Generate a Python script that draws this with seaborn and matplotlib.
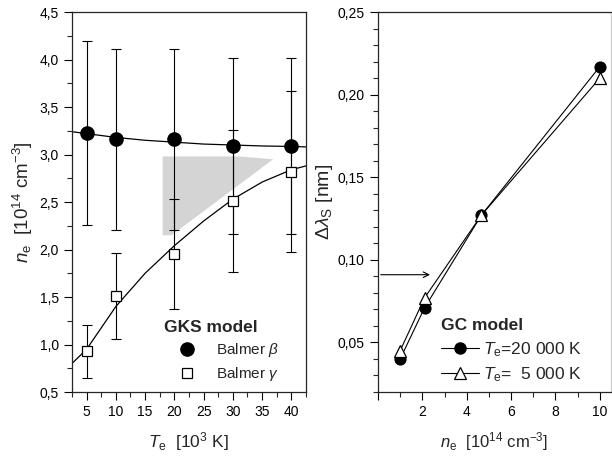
import numpy as np
import pandas as pd
import seaborn as sns
import matplotlib.pyplot as plt
from matplotlib.lines import Line2D
from matplotlib.ticker import MultipleLocator, FuncFormatter

# left panel: GKS model, n_e vs T_e
T_pts = [5, 10, 20, 30, 40]
beta_ne = [3.23, 3.16, 3.16, 3.09, 3.09]
beta_err = [0.97, 0.95, 0.95, 0.93, 0.93]
gamma_ne = [0.93, 1.51, 1.95, 2.51, 2.82]
gamma_err = [0.28, 0.45, 0.58, 0.75, 0.85]

# fit curves
T_fit = [2.5, 5, 10, 15, 20, 25, 30, 35, 40, 42.5]
beta_fit = [3.24, 3.22, 3.18, 3.15, 3.13, 3.11, 3.10, 3.09, 3.085, 3.08]
gamma_fit = [0.80, 0.95, 1.40, 1.75, 2.04, 2.30, 2.53, 2.71, 2.84, 2.88]

# grey region
shade_T = [18.0, 31.0, 36.9, 19.5, 18.0]
shade_ne = [2.98, 2.98, 2.95, 2.15, 2.15]

# right panel: GC model, shift vs n_e
ne_pts = [1.0, 2.1, 4.66, 10.0]
shift_20k = [0.040, 0.071, 0.127, 0.217]
shift_5k = [0.045, 0.077, 0.127, 0.210]
arrow_shift = 0.091
arrow_ne = 2.47

sns.set_style('ticks')
plt.rcParams['font.family'] = ['Liberation Sans', 'DejaVu Sans']
plt.rcParams['mathtext.fontset'] = 'custom'
plt.rcParams['mathtext.rm'] = 'Liberation Sans'
plt.rcParams['mathtext.it'] = 'Liberation Sans:italic'
plt.rcParams['mathtext.bf'] = 'Liberation Sans:bold'
plt.rcParams['xtick.direction'] = 'out'
plt.rcParams['ytick.direction'] = 'out'

fig = plt.figure(figsize=(6.12, 4.57), dpi=100)
ax1 = fig.add_axes([0.1176, 0.1422, 0.3824, 0.8315])
ax2 = fig.add_axes([0.6176, 0.1422, 0.3807, 0.8315])

comma = FuncFormatter(lambda v, p: f'{v:.1f}'.replace('.', ','))
comma2 = FuncFormatter(lambda v, p: f'{v:.2f}'.replace('.', ','))

# ---- left
ax1.fill(shade_T, shade_ne, color='#d4d4d4', lw=0, zorder=1)
fit = pd.DataFrame({'T': T_fit, 'beta': beta_fit, 'gamma': gamma_fit})
sns.lineplot(data=fit, x='T', y='beta', color='black', lw=0.9, ax=ax1, zorder=2)
sns.lineplot(data=fit, x='T', y='gamma', color='black', lw=0.9, ax=ax1, zorder=2)
ax1.errorbar(T_pts, beta_ne, yerr=beta_err, fmt='none', ecolor='black',
             elinewidth=0.8, capsize=3.6, capthick=0.8, zorder=3)
ax1.errorbar(T_pts, gamma_ne, yerr=gamma_err, fmt='none', ecolor='black',
             elinewidth=0.8, capsize=3.6, capthick=0.8, zorder=3)
ax1.plot(T_pts, beta_ne, 'o', ms=9.5, color='black', zorder=4)
ax1.plot(T_pts, gamma_ne, 's', ms=7.5, mfc='white', mec='black', mew=0.9, zorder=4)

ax1.set_xlim(2.5, 42.5)
ax1.set_ylim(0.5, 4.5)
ax1.xaxis.set_major_locator(MultipleLocator(5))
ax1.xaxis.set_minor_locator(MultipleLocator(2.5))
ax1.yaxis.set_major_locator(MultipleLocator(0.5))
ax1.yaxis.set_minor_locator(MultipleLocator(0.25))
ax1.yaxis.set_major_formatter(comma)
ax1.set_xlabel(r'$T_{\rm e}$  [10$^3$ K]', fontsize=12.5, labelpad=8)
ax1.set_ylabel(r'$n_{\rm e}$  [10$^{14}$ cm$^{-3}$]', fontsize=13.5, labelpad=3)

h1 = [Line2D([], [], ls='none', marker='o', ms=9.5, color='black'),
      Line2D([], [], ls='none', marker='s', ms=7.5, mfc='white', mec='black', mew=0.9)]
leg1 = ax1.legend(h1, [r'Balmer $\beta$', r'Balmer $\gamma$'], title='GKS model',
                  loc='upper left', bbox_to_anchor=(0.395, 0.19), frameon=False,
                  fontsize=11, handlelength=3.0, handletextpad=0.4, labelspacing=0.4,
                  borderpad=0, borderaxespad=0)
leg1.get_title().set_fontweight('bold')
leg1.get_title().set_fontsize(12.5)
leg1._legend_box.align = 'left'

# ---- right
gc = pd.DataFrame({'ne': ne_pts * 2, 'shift': shift_20k + shift_5k,
                   'Te': ['20000'] * 4 + ['5000'] * 4})
sns.lineplot(data=gc[gc.Te == '5000'], x='ne', y='shift', color='black', lw=0.8,
             marker='^', ms=8.5, mfc='white', mec='black', mew=0.9, ax=ax2, zorder=3)
sns.lineplot(data=gc[gc.Te == '20000'], x='ne', y='shift', color='black', lw=0.8,
             marker='o', ms=8, mfc='black', mec='black', ax=ax2, zorder=2)
ax2.annotate('', xy=(arrow_ne, arrow_shift), xytext=(0, arrow_shift),
             arrowprops=dict(arrowstyle='->', color='black', lw=0.8))

ax2.set_xlim(0, 10.5)
ax2.set_ylim(0.02, 0.25)
ax2.xaxis.set_major_locator(MultipleLocator(2))
ax2.xaxis.set_minor_locator(MultipleLocator(1))
ax2.yaxis.set_major_locator(MultipleLocator(0.05))
ax2.yaxis.set_minor_locator(MultipleLocator(0.01))
ax2.yaxis.set_major_formatter(comma2)
ax2.xaxis.set_major_formatter(FuncFormatter(lambda v, p: f'{v:.0f}' if v > 0 else ''))
ax2.set_xlabel(r'$n_{\rm e}$  [10$^{14}$ cm$^{-3}$]', fontsize=12, labelpad=8)
ax2.set_ylabel(r'$\Delta\lambda_{\rm S}$ [nm]', fontsize=14, labelpad=2)
ax2.spines['right'].set_color('#cccccc')

h2 = [Line2D([], [], color='black', lw=0.8, marker='o', ms=8),
      Line2D([], [], color='black', lw=0.8, marker='^', ms=8.5, mfc='white', mew=0.9)]
leg2 = ax2.legend(h2, [r'$T_{\rm e}$=20 000 K', r'$T_{\rm e}$=  5 000 K'], title='GC model',
                  loc='upper left', bbox_to_anchor=(0.27, 0.195), frameon=False,
                  fontsize=12.5, handlelength=2.2, handletextpad=0.2, labelspacing=0.4,
                  borderpad=0, borderaxespad=0)
leg2.get_title().set_fontweight('bold')
leg2.get_title().set_fontsize(12.5)
leg2._legend_box.align = 'left'

for ax in (ax1, ax2):
    ax.tick_params(which='major', length=6, width=0.8, labelsize=10, colors='black')
    ax.tick_params(which='minor', length=3.5, width=0.8)
    for s in ax.spines.values():
        s.set_linewidth(0.9)
    ax.spines['top'].set_visible(True)
    ax.spines['right'].set_visible(True)

fig.savefig('out.png', dpi=100)
